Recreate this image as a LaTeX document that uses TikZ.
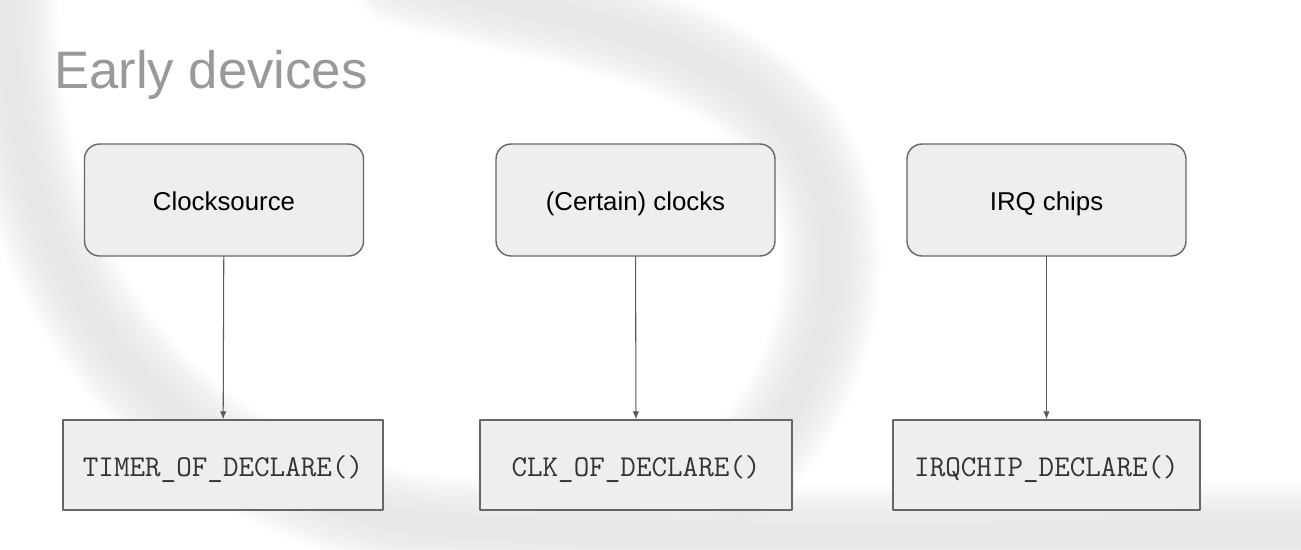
\documentclass[tikz,border=0pt]{standalone}
\usepackage{fontspec}
\setmainfont{Liberation Sans}
\usetikzlibrary{arrows.meta}
\definecolor{boxfill}{HTML}{EEEEEE}
\definecolor{boxline}{HTML}{666666}
\definecolor{titlegray}{HTML}{999999}
\definecolor{codegray}{HTML}{333333}
\definecolor{arrowgray}{HTML}{5A5A5A}
\definecolor{swoosh}{HTML}{E2E2E2}
\begin{document}
\begin{tikzpicture}[x=0.02cm,y=-0.02cm,line cap=round,line join=round,
  kind/.style={draw=boxline,fill=boxfill,line width=0.8pt,rounded corners=0.3cm,
    minimum width=5.58cm,minimum height=2.24cm,inner sep=0pt,
    text height=13pt,text depth=1.6pt,
    font=\fontsize{14.7}{17}\selectfont},
  macro/.style={draw=boxline,fill=boxfill,line width=0.8pt,
    minimum height=1.8cm,inner sep=0pt,text=codegray,
    text height=15pt,text depth=1.4pt,
    font=\ttfamily\fontsize{17.2}{19}\selectfont},
  link/.style={draw=arrowgray,line width=0.6pt,-{Latex[length=1.6mm,width=1.3mm]}},
  band/.style={draw=swoosh,draw opacity=0.1}]
  \useasboundingbox (0,0) rectangle (1301,549);
  \fill[white] (0,0) rectangle (1301,549);
  % soft background swooshes
  \foreach \w in {100,92,84,76,68,60,52,44,36,28,20}{
    \draw[band,line width=\w*0.02cm] (8,-20) .. controls (0,230) and (120,470) .. (420,524)
      .. controls (700,542) and (1000,534) .. (1330,532);
    \draw[band,line width=\w*0.02cm] (400,-24) .. controls (560,18) and (710,30) .. (795,135)
      .. controls (862,235) and (830,385) .. (740,472);
  }
  \node[anchor=base west,text=titlegray,font=\fontsize{30}{35}\selectfont] (title) at (48,88) {Early devices};
  \node[kind] (clksrc) at (224,200) {Clocksource};
  \node[kind] (clocks) at (635.5,200) {(Certain) clocks};
  \node[kind] (irqchip) at (1046.5,200) {IRQ chips};
  \node[macro,minimum width=6.4cm] (timerdecl) at (223,465) {TIMER\_OF\_DECLARE()};
  \node[macro,minimum width=6.24cm] (clkdecl) at (636,465) {CLK\_OF\_DECLARE()};
  \node[macro,minimum width=6.14cm] (irqdecl) at (1046.5,465) {IRQCHIP\_DECLARE()};
  \draw[link] (clksrc) -- (timerdecl);
  \draw[link] (clocks) -- (clkdecl);
  \draw[link] (irqchip) -- (irqdecl);
\end{tikzpicture}
\end{document}
